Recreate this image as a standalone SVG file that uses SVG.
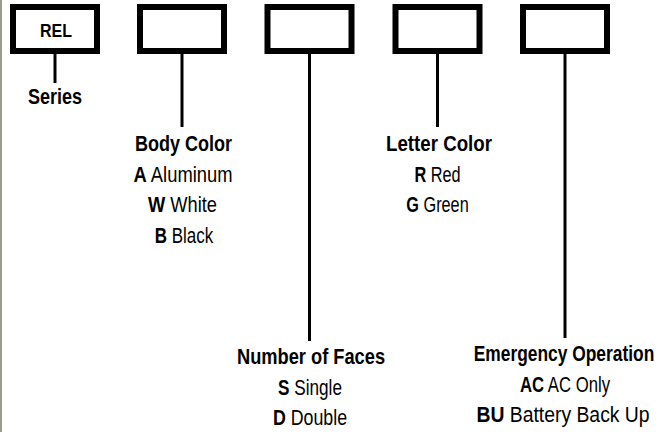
<svg xmlns="http://www.w3.org/2000/svg" width="666" height="432" viewBox="0 0 666 432">
<style>
.box{fill:#fff;stroke:#000;stroke-width:6}
.ln{stroke:#000;stroke-width:3;fill:none}
text{font-family:"Liberation Sans",Arial,sans-serif;font-size:22px;fill:#000;text-anchor:middle}
.b{font-weight:bold}
</style>
<rect x="0" y="0" width="666" height="432" fill="#fff"/>
<rect x="0" y="0" width="2" height="432" fill="#9b9b8b"/>
<g id="connectors">
<line class="ln" x1="55" y1="54" x2="55" y2="83"/>
<line class="ln" x1="182" y1="54" x2="182" y2="127"/>
<line class="ln" x1="309.5" y1="54" x2="309.5" y2="341"/>
<line class="ln" x1="437.5" y1="54" x2="437.5" y2="127"/>
<line class="ln" x1="565" y1="54" x2="565" y2="338"/>
</g>
<g id="series">
<rect class="box" x="13" y="7" width="84" height="44"/>
<text class="b" transform="translate(56,37) scale(0.89,1)" style="font-size:18px">REL</text>
<text class="b" transform="translate(55,104) scale(0.82,1)">Series</text>
</g>
<g id="body-color">
<rect class="box" x="140" y="7" width="84" height="44"/>
<text class="b" transform="translate(183.5,151) scale(0.82,1)">Body Color</text>
<text transform="translate(183,182) scale(0.835,1)"><tspan class="b">A</tspan> Aluminum</text>
<text transform="translate(182.5,212) scale(0.83,1)"><tspan class="b">W</tspan> White</text>
<text transform="translate(184,243) scale(0.77,1)"><tspan class="b">B</tspan> Black</text>
</g>
<g id="number-of-faces">
<rect class="box" x="267.5" y="7" width="84" height="44"/>
<text class="b" transform="translate(311,364) scale(0.83,1)">Number of Faces</text>
<text transform="translate(310,395) scale(0.78,1)"><tspan class="b">S</tspan> Single</text>
<text transform="translate(310,425) scale(0.81,1)"><tspan class="b">D</tspan> Double</text>
</g>
<g id="letter-color">
<rect class="box" x="395.5" y="7" width="84" height="44"/>
<text class="b" transform="translate(439,151) scale(0.85,1)">Letter Color</text>
<text transform="translate(437.5,182) scale(0.74,1)"><tspan class="b">R</tspan> Red</text>
<text transform="translate(437.5,212) scale(0.74,1)"><tspan class="b">G</tspan> Green</text>
</g>
<g id="emergency-operation">
<rect class="box" x="523" y="7" width="84" height="44"/>
<text class="b" transform="translate(564,361) scale(0.79,1)">Emergency Operation</text>
<text transform="translate(565,392) scale(0.76,1)"><tspan class="b">AC</tspan> AC Only</text>
<text transform="translate(563,422) scale(0.88,1)"><tspan class="b">BU</tspan> Battery Back Up</text>
</g>
</svg>
